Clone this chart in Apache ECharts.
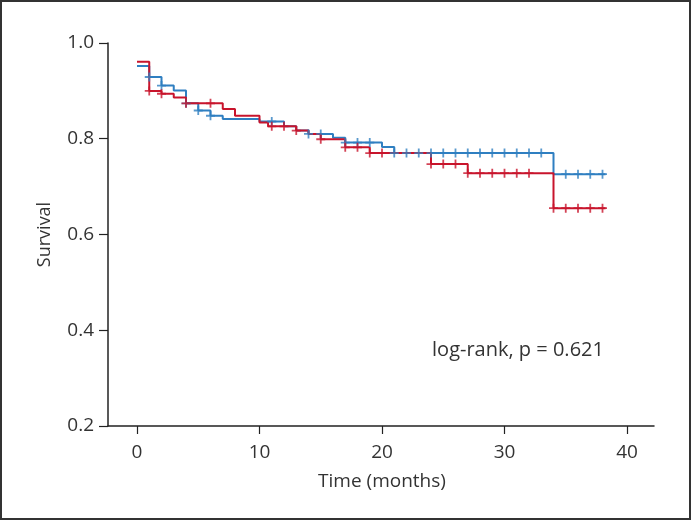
<!DOCTYPE html>
<html>
<head>
<meta charset="utf-8">
<script src="https://cdn.jsdelivr.net/npm/echarts@6/dist/echarts.min.js"></script>
<style>
html,body{margin:0;padding:0;background:#fff;}
#chart{width:691px;height:520px;}
</style>
</head>
<body>
<div id="chart"></div>
<script>
// ---- data ----
const xTicks = [0, 10, 20, 30, 40];
const yTicks = [0.2, 0.4, 0.6, 0.8, 1.0];

const blueTimes = [0, 1, 2, 3, 4, 5, 6, 7, 10, 12, 13, 14, 16, 17, 20, 21, 34, 38.25];
const blueSurv  = [0.952, 0.929, 0.911, 0.901, 0.874, 0.859, 0.848, 0.841, 0.836, 0.826, 0.817, 0.810, 0.802, 0.792, 0.783, 0.770, 0.726, 0.726];
const blueCensor = [1, 2, 4, 5, 6, 11, 14, 15, 17, 18, 19, 21, 22, 23, 24, 25, 26, 27, 28, 29, 30, 31, 32, 33, 35, 36, 37, 38];

const redTimes = [0, 1, 2, 3, 4, 7, 8, 10, 10.7, 13, 14, 15, 17, 19, 24, 27, 34, 38.25];
const redSurv  = [0.961, 0.900, 0.894, 0.886, 0.874, 0.862, 0.848, 0.834, 0.826, 0.817, 0.810, 0.799, 0.782, 0.770, 0.747, 0.728, 0.655, 0.655];
const redCensor = [1, 2, 4, 6, 11, 12, 13, 15, 17, 18, 19, 20, 24, 25, 26, 27, 28, 29, 30, 31, 32, 34, 35, 36, 37, 38];

const annotation = 'log-rank, p = 0.621';
const xName = 'Time (months)';
const yName = 'Survival';

// ---- helpers ----
function pairs(ts, ss) { return ts.map((t, i) => [t, ss[i]]); }
function survAt(ts, ss, t) {
  let v = ss[0];
  for (let i = 0; i < ts.length; i++) { if (ts[i] <= t) v = ss[i]; }
  return v;
}
function censorPts(cs, ts, ss) { return cs.map(t => [t, survAt(ts, ss, t)]); }

const BLUE = '#2f7fc1';
const RED = '#c8142c';
const FONT = '"Open Sans", "Noto Sans", sans-serif';
const TXT = '#333';
const AX = '#222';
const plus = 'path://M8,0 h4 v8 h8 v4 h-8 v8 h-4 v-8 h-8 v-4 h8 z';

const chart = echarts.init(document.getElementById('chart'), null, {renderer: 'canvas'});
chart.setOption({
  backgroundColor: '#fff',
  animation: false,
  textStyle: {fontFamily: FONT},
  grid: [
    {left: 108, top: 43, width: 546, height: 383},
    {left: 137, top: 43, width: 490, height: 383}
  ],
  xAxis: [
    {
      gridIndex: 0, type: 'value', min: -2.4, max: 42.2,
      axisLine: {show: true, onZero: false, lineStyle: {color: AX, width: 1.5}},
      axisTick: {show: false}, axisLabel: {show: false}, splitLine: {show: false}
    },
    {
      gridIndex: 1, type: 'value', min: xTicks[0], max: xTicks[xTicks.length - 1], interval: 10,
      axisLine: {show: false, onZero: false},
      axisTick: {show: true, inside: false, length: 8, lineStyle: {color: AX, width: 1.2}},
      axisLabel: {show: true, color: TXT, fontSize: 19, fontFamily: FONT, margin: 17},
      splitLine: {show: false},
      name: xName, nameLocation: 'middle', nameGap: 46,
      nameTextStyle: {color: TXT, fontSize: 19, fontFamily: FONT}
    }
  ],
  yAxis: [
    {
      gridIndex: 0, type: 'value', min: yTicks[0], max: yTicks[yTicks.length - 1], interval: 0.2,
      axisLine: {show: true, onZero: false, lineStyle: {color: AX, width: 1.5}},
      axisTick: {show: true, inside: false, length: 9, lineStyle: {color: AX, width: 1.2}},
      axisLabel: {show: true, color: TXT, fontSize: 19, fontFamily: FONT, margin: 14,
                  formatter: v => v.toFixed(1)},
      splitLine: {show: false},
      name: yName, nameLocation: 'middle', nameGap: 54, nameRotate: 90,
      nameTextStyle: {color: TXT, fontSize: 18, fontFamily: FONT}
    },
    {
      gridIndex: 1, type: 'value', min: yTicks[0], max: yTicks[yTicks.length - 1], show: false
    }
  ],
  series: [
    {
      type: 'line', xAxisIndex: 1, yAxisIndex: 1, step: 'end', showSymbol: false, symbol: 'none',
      data: pairs(blueTimes, blueSurv), lineStyle: {color: BLUE, width: 2}, z: 2
    },
    {
      type: 'line', xAxisIndex: 1, yAxisIndex: 1, step: 'end', showSymbol: false, symbol: 'none',
      data: pairs(redTimes, redSurv), lineStyle: {color: RED, width: 2}, z: 3
    },
    {
      type: 'scatter', xAxisIndex: 1, yAxisIndex: 1, symbol: plus, symbolSize: 9,
      data: censorPts(blueCensor, blueTimes, blueSurv), itemStyle: {color: BLUE}, z: 4
    },
    {
      type: 'scatter', xAxisIndex: 1, yAxisIndex: 1, symbol: plus, symbolSize: 9,
      data: censorPts(redCensor, redTimes, redSurv), itemStyle: {color: RED}, z: 5
    }
  ],
  graphic: [
    {type: 'text', x: 518, y: 350, z: 10,
     style: {text: annotation, fill: TXT, font: '20px ' + FONT, textAlign: 'center', textVerticalAlign: 'middle'}},
    {type: 'rect', z: 20, shape: {x: 1, y: 1, width: 689, height: 518},
     style: {fill: 'none', stroke: '#333', lineWidth: 2}}
  ]
});
</script>
</body>
</html>
